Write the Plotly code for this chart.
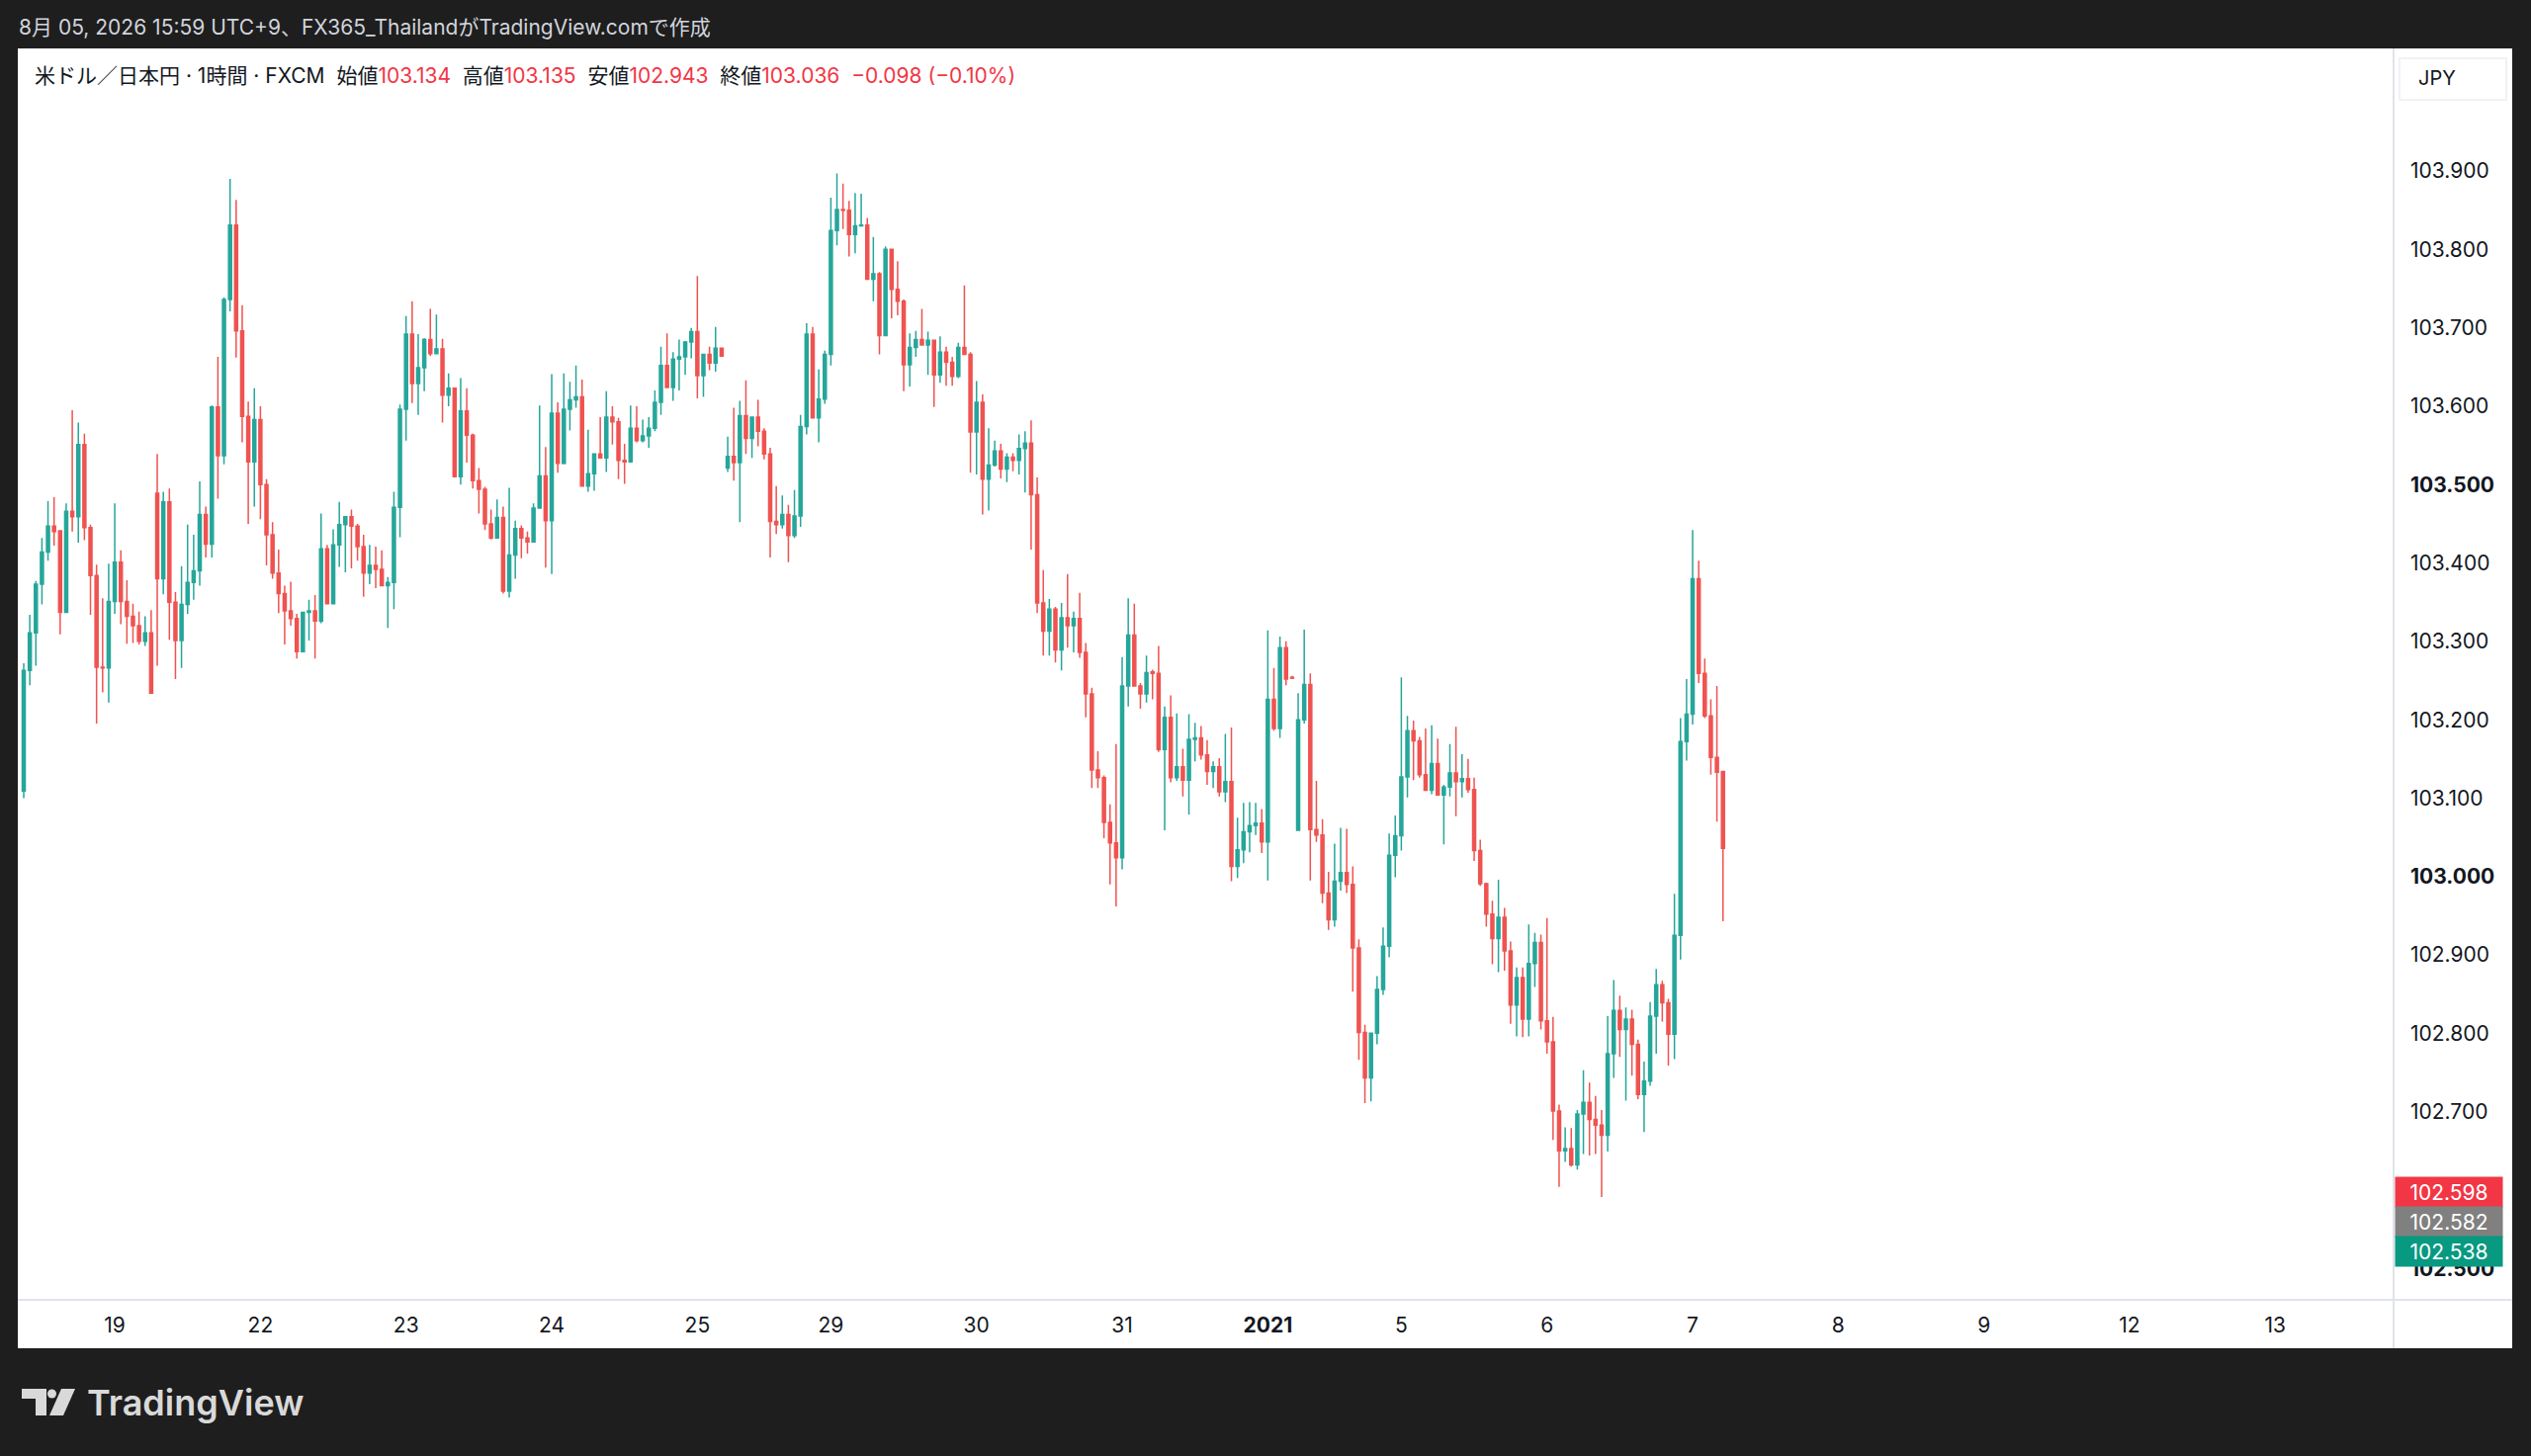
import plotly.graph_objects as go

# USD/JPY 1h FXCM  (bar index 0 = first visible bar, Dec 18 JST)
o = [103.109, 103.263, 103.311, 103.373, 103.414, 103.447, 103.441, 103.337, 103.466, 103.459,
     103.551, 103.445, 103.384, 103.267, 103.266, 103.351, 103.401, 103.351, 103.332, 103.320,
     103.300, 103.311, 103.489, 103.380, 103.478, 103.350, 103.301, 103.347, 103.375, 103.390,
     103.462, 103.424, 103.599, 103.537, 103.736, 103.831, 103.696, 103.587, 103.529, 103.583,
     103.500, 103.436, 103.387, 103.361, 103.339, 103.329, 103.287, 103.337, 103.339, 103.326,
     103.418, 103.348, 103.423, 103.449, 103.459, 103.447, 103.421, 103.387, 103.397, 103.392,
     103.371, 103.375, 103.471, 103.596, 103.692, 103.629, 103.649, 103.685, 103.667, 103.673,
     103.614, 103.623, 103.510, 103.594, 103.563, 103.505, 103.494, 103.450, 103.432, 103.458,
     103.364, 103.410, 103.444, 103.432, 103.427, 103.470, 103.511, 103.454, 103.591, 103.527,
     103.596, 103.608, 103.612, 103.498, 103.514, 103.539, 103.534, 103.586, 103.580, 103.531,
     103.529, 103.572, 103.556, 103.562, 103.572, 103.605, 103.652, 103.624, 103.660, 103.663,
     103.682, 103.695, 103.639, 103.666, 103.655, 103.674, 103.521, 103.536, 103.528, 103.588,
     103.559, 103.586, 103.568, 103.539, 103.453, 103.449, 103.462, 103.435, 103.460, 103.574,
     103.692, 103.585, 103.609, 103.666, 103.824, 103.851, 103.850, 103.819, 103.830, 103.831,
     103.762, 103.769, 103.690, 103.800, 103.749, 103.734, 103.653, 103.675, 103.685, 103.678,
     103.684, 103.640, 103.669, 103.656, 103.638, 103.675, 103.666, 103.567, 103.605, 103.507,
     103.525, 103.543, 103.520, 103.535, 103.531, 103.546, 103.553, 103.487, 103.349, 103.313,
     103.341, 103.289, 103.330, 103.320, 103.329, 103.286, 103.233, 103.136, 103.126, 103.069,
     103.043, 103.024, 103.243, 103.308, 103.243, 103.233, 103.261, 103.259, 103.162, 103.203,
     103.126, 103.140, 103.123, 103.175, 103.177, 103.155, 103.134, 103.140, 103.108, 103.121,
     103.013, 103.034, 103.057, 103.065, 103.068, 103.044, 103.226, 103.189, 103.292, 103.254,
     103.059, 103.200, 103.245, 103.060, 103.053, 102.979, 102.945, 102.994, 103.005, 102.990,
     102.909, 102.801, 102.743, 102.800, 102.856, 102.911, 103.027, 103.052, 103.127, 103.186,
     103.173, 103.130, 103.110, 103.144, 103.104, 103.114, 103.132, 103.121, 103.125, 103.111,
     103.033, 102.991, 102.952, 102.921, 102.948, 102.905, 102.836, 102.871, 102.818, 102.889,
     102.916, 102.816, 102.789, 102.701, 102.650, 102.653, 102.632, 102.697, 102.712, 102.690,
     102.683, 102.670, 102.774, 102.829, 102.805, 102.818, 102.786, 102.722, 102.739, 102.822,
     102.862, 102.839, 102.799, 102.925, 103.172, 103.207, 103.380, 103.259, 103.205, 103.152,
     103.134]
h = [103.272, 103.334, 103.377, 103.432, 103.479, 103.484, 103.441, 103.476, 103.595, 103.579,
     103.565, 103.449, 103.398, 103.355, 103.399, 103.476, 103.416, 103.378, 103.348, 103.338,
     103.332, 103.340, 103.539, 103.491, 103.495, 103.363, 103.396, 103.449, 103.436, 103.504,
     103.472, 103.601, 103.663, 103.739, 103.890, 103.863, 103.729, 103.606, 103.623, 103.600,
     103.507, 103.452, 103.417, 103.371, 103.376, 103.335, 103.337, 103.353, 103.359, 103.463,
     103.423, 103.443, 103.478, 103.460, 103.468, 103.450, 103.436, 103.423, 103.421, 103.416,
     103.382, 103.491, 103.602, 103.715, 103.734, 103.692, 103.687, 103.724, 103.717, 103.686,
     103.642, 103.623, 103.636, 103.623, 103.565, 103.521, 103.497, 103.468, 103.481, 103.472,
     103.496, 103.454, 103.448, 103.440, 103.476, 103.601, 103.548, 103.641, 103.605, 103.642,
     103.631, 103.652, 103.634, 103.570, 103.540, 103.586, 103.619, 103.600, 103.585, 103.552,
     103.601, 103.600, 103.583, 103.586, 103.620, 103.676, 103.693, 103.669, 103.685, 103.683,
     103.700, 103.766, 103.666, 103.676, 103.701, 103.675, 103.561, 103.598, 103.607, 103.633,
     103.587, 103.608, 103.572, 103.547, 103.498, 103.486, 103.474, 103.493, 103.589, 103.706,
     103.701, 103.647, 103.671, 103.866, 103.897, 103.884, 103.862, 103.872, 103.871, 103.840,
     103.816, 103.771, 103.804, 103.800, 103.785, 103.736, 103.693, 103.696, 103.724, 103.695,
     103.684, 103.689, 103.676, 103.663, 103.681, 103.754, 103.669, 103.632, 103.615, 103.572,
     103.556, 103.552, 103.540, 103.540, 103.564, 103.568, 103.582, 103.509, 103.391, 103.354,
     103.344, 103.349, 103.386, 103.338, 103.362, 103.298, 103.241, 103.160, 103.129, 103.092,
     103.169, 103.280, 103.355, 103.348, 103.247, 103.282, 103.264, 103.294, 103.217, 103.231,
     103.208, 103.163, 103.207, 103.196, 103.192, 103.174, 103.147, 103.151, 103.182, 103.190,
     103.075, 103.094, 103.095, 103.094, 103.086, 103.314, 103.266, 103.306, 103.300, 103.256,
     103.234, 103.315, 103.259, 103.122, 103.073, 103.006, 103.042, 103.062, 103.061, 103.013,
     102.920, 102.811, 102.801, 102.873, 102.935, 103.055, 103.078, 103.254, 103.205, 103.199,
     103.178, 103.189, 103.193, 103.176, 103.117, 103.169, 103.191, 103.156, 103.150, 103.126,
     103.047, 102.992, 102.969, 102.996, 102.960, 102.917, 102.884, 102.884, 102.939, 102.928,
     102.926, 102.947, 102.821, 102.709, 102.680, 102.679, 102.702, 102.753, 102.737, 102.720,
     102.702, 102.822, 102.868, 102.848, 102.833, 102.830, 102.792, 102.764, 102.840, 102.882,
     102.867, 102.844, 102.978, 103.202, 103.252, 103.442, 103.403, 103.278, 103.226, 103.243,
     103.135]
l = [103.100, 103.244, 103.269, 103.347, 103.403, 103.422, 103.309, 103.336, 103.440, 103.426,
     103.429, 103.334, 103.195, 103.235, 103.222, 103.335, 103.322, 103.297, 103.298, 103.296,
     103.294, 103.234, 103.269, 103.360, 103.302, 103.252, 103.266, 103.335, 103.353, 103.371,
     103.407, 103.407, 103.482, 103.526, 103.721, 103.662, 103.554, 103.450, 103.472, 103.456,
     103.397, 103.380, 103.336, 103.296, 103.320, 103.278, 103.287, 103.301, 103.278, 103.323,
     103.347, 103.347, 103.395, 103.388, 103.393, 103.403, 103.357, 103.373, 103.368, 103.371,
     103.317, 103.341, 103.433, 103.556, 103.604, 103.589, 103.619, 103.664, 103.667, 103.579,
     103.600, 103.510, 103.500, 103.528, 103.495, 103.463, 103.442, 103.430, 103.432, 103.361,
     103.356, 103.380, 103.406, 103.412, 103.427, 103.470, 103.394, 103.386, 103.515, 103.526,
     103.569, 103.598, 103.498, 103.491, 103.492, 103.534, 103.516, 103.551, 103.507, 103.501,
     103.529, 103.554, 103.554, 103.547, 103.568, 103.589, 103.624, 103.607, 103.620, 103.640,
     103.661, 103.610, 103.612, 103.646, 103.644, 103.664, 103.516, 103.505, 103.452, 103.539,
     103.534, 103.549, 103.532, 103.407, 103.437, 103.444, 103.401, 103.432, 103.446, 103.564,
     103.585, 103.554, 103.603, 103.652, 103.805, 103.826, 103.791, 103.795, 103.830, 103.762,
     103.734, 103.666, 103.690, 103.712, 103.716, 103.619, 103.625, 103.663, 103.678, 103.640,
     103.599, 103.630, 103.626, 103.626, 103.636, 103.666, 103.515, 103.513, 103.462, 103.467,
     103.523, 103.508, 103.503, 103.517, 103.513, 103.490, 103.417, 103.336, 103.282, 103.282,
     103.273, 103.263, 103.292, 103.286, 103.279, 103.203, 103.113, 103.113, 103.049, 102.990,
     102.962, 103.009, 103.217, 103.243, 103.214, 103.222, 103.226, 103.159, 103.059, 103.120,
     103.122, 103.102, 103.079, 103.147, 103.149, 103.117, 103.113, 103.102, 103.095, 102.994,
     102.998, 103.017, 103.031, 103.053, 103.030, 102.995, 103.186, 103.177, 103.244, 103.252,
     103.059, 103.195, 102.995, 103.044, 102.966, 102.932, 102.936, 102.982, 102.979, 102.853,
     102.766, 102.711, 102.713, 102.786, 102.849, 102.897, 102.999, 103.033, 103.101, 103.123,
     103.126, 103.110, 103.105, 103.104, 103.041, 103.102, 103.077, 103.101, 103.107, 103.020,
     102.988, 102.936, 102.888, 102.878, 102.880, 102.812, 102.796, 102.795, 102.796, 102.859,
     102.805, 102.774, 102.664, 102.604, 102.636, 102.630, 102.626, 102.646, 102.644, 102.646,
     102.591, 102.649, 102.743, 102.770, 102.714, 102.746, 102.716, 102.674, 102.733, 102.774,
     102.815, 102.759, 102.767, 102.894, 103.148, 103.194, 103.247, 103.202, 103.130, 103.070,
     102.943]
c = [103.263, 103.311, 103.373, 103.414, 103.447, 103.440, 103.337, 103.466, 103.459, 103.551,
     103.445, 103.384, 103.267, 103.266, 103.351, 103.401, 103.351, 103.332, 103.320, 103.300,
     103.311, 103.234, 103.380, 103.478, 103.350, 103.301, 103.347, 103.375, 103.390, 103.462,
     103.424, 103.599, 103.537, 103.736, 103.831, 103.696, 103.587, 103.529, 103.583, 103.500,
     103.436, 103.387, 103.361, 103.339, 103.329, 103.287, 103.337, 103.339, 103.326, 103.418,
     103.348, 103.423, 103.449, 103.459, 103.447, 103.421, 103.387, 103.397, 103.392, 103.371,
     103.375, 103.471, 103.596, 103.692, 103.629, 103.649, 103.685, 103.667, 103.673, 103.614,
     103.623, 103.510, 103.594, 103.563, 103.505, 103.494, 103.450, 103.432, 103.458, 103.364,
     103.410, 103.444, 103.432, 103.427, 103.470, 103.511, 103.454, 103.591, 103.527, 103.596,
     103.608, 103.612, 103.498, 103.514, 103.539, 103.534, 103.586, 103.580, 103.531, 103.529,
     103.572, 103.556, 103.562, 103.572, 103.605, 103.652, 103.624, 103.660, 103.663, 103.682,
     103.695, 103.639, 103.666, 103.655, 103.674, 103.664, 103.536, 103.528, 103.588, 103.559,
     103.586, 103.568, 103.539, 103.453, 103.449, 103.462, 103.435, 103.460, 103.574, 103.692,
     103.585, 103.609, 103.666, 103.824, 103.851, 103.850, 103.819, 103.830, 103.831, 103.762,
     103.769, 103.690, 103.800, 103.749, 103.734, 103.653, 103.675, 103.685, 103.678, 103.684,
     103.640, 103.669, 103.656, 103.638, 103.675, 103.666, 103.567, 103.605, 103.507, 103.525,
     103.543, 103.520, 103.535, 103.531, 103.546, 103.553, 103.487, 103.349, 103.313, 103.341,
     103.289, 103.330, 103.320, 103.329, 103.286, 103.233, 103.136, 103.126, 103.069, 103.043,
     103.024, 103.243, 103.308, 103.243, 103.233, 103.260, 103.259, 103.162, 103.203, 103.126,
     103.140, 103.123, 103.175, 103.177, 103.155, 103.134, 103.140, 103.108, 103.121, 103.013,
     103.034, 103.057, 103.065, 103.068, 103.044, 103.226, 103.189, 103.292, 103.252, 103.253,
     103.200, 103.245, 103.060, 103.053, 102.979, 102.945, 102.994, 103.005, 102.990, 102.909,
     102.801, 102.743, 102.800, 102.856, 102.911, 103.027, 103.052, 103.127, 103.186, 103.173,
     103.130, 103.110, 103.144, 103.104, 103.114, 103.132, 103.121, 103.125, 103.111, 103.033,
     102.991, 102.952, 102.921, 102.948, 102.905, 102.836, 102.871, 102.818, 102.889, 102.916,
     102.816, 102.789, 102.701, 102.650, 102.653, 102.632, 102.697, 102.712, 102.690, 102.683,
     102.670, 102.774, 102.829, 102.805, 102.818, 102.786, 102.722, 102.739, 102.822, 102.862,
     102.839, 102.799, 102.925, 103.172, 103.207, 103.380, 103.259, 103.205, 103.152, 103.133,
     103.036]

# day labels on the time axis (bar index where the day starts)
day_idx = [15, 39, 63, 87, 111, 133, 157, 181, 205, 227, 251, 275, 299, 323, 347, 371]
day_txt = ["19", "22", "23", "24", "25", "29", "30", "31", "<b>2021</b>",
           "5", "6", "7", "8", "9", "12", "13"]

price_ticks = [102.5, 102.6, 102.7, 102.8, 102.9, 103.0, 103.1, 103.2, 103.3,
               103.4, 103.5, 103.6, 103.7, 103.8, 103.9]

# stacked price labels on the right scale
tag_vals = [102.598, 102.582, 102.538]
tag_cols = ["#f23645", "#808080", "#089981"]

W, H = 2560, 1473
PL, PR, PT, PB = 18, 2421, 49, 1315   # plot area in pixels
FONT = "Inter, Noto Sans CJK JP, sans-serif"
UP, DN = "#26a69a", "#ef5350"


def px(x):
    return (x - PL) / (PR - PL)


def py(y):
    return (PB - y) / (PB - PT)


xs = list(range(len(c)))

fig = go.Figure()
fig.add_trace(go.Candlestick(
    x=xs, open=o, high=h, low=l, close=c,
    increasing=dict(line=dict(color=UP, width=1.5), fillcolor=UP),
    decreasing=dict(line=dict(color=DN, width=1.5), fillcolor=DN),
    whiskerwidth=0, showlegend=False, hoverinfo="skip"
))

tick_txt = []
for v in price_ticks:
    s = f"{v:.3f}"
    tick_txt.append(f"<b>{s}</b>" if abs(v * 2 - round(v * 2)) < 1e-9 else s)

fig.update_layout(
    width=W, height=H,
    margin=dict(l=PL, r=W - PR, t=PT, b=H - PB, pad=0),
    paper_bgcolor="#1e1e1e", plot_bgcolor="white",
    font=dict(family=FONT, size=21, color="#131722"),
    showlegend=False,
    xaxis=dict(range=[-0.977, 390.5], rangeslider=dict(visible=False),
               tickmode="array", tickvals=day_idx, ticktext=day_txt,
               showgrid=False, zeroline=False, showline=False, ticks="",
               tickfont=dict(size=21, color="#131722"), ticklabelstandoff=11),
    yaxis=dict(range=[102.46, 104.0564], side="right",
               tickmode="array", tickvals=price_ticks, ticktext=tick_txt,
               showgrid=False, zeroline=False, showline=False, ticks="",
               tickfont=dict(size=21, color="#131722"), ticklabelstandoff=16),
)

shapes = [
    # white chart panel
    dict(type="rect", xref="paper", yref="paper", x0=px(18), x1=px(2541),
         y0=py(1364), y1=py(49), fillcolor="white", line=dict(width=0), layer="below"),
    # price scale / time scale separators
    dict(type="line", xref="paper", yref="paper", x0=px(2421), x1=px(2421),
         y0=py(1364), y1=py(49), line=dict(color="#e0e3eb", width=2)),
    dict(type="line", xref="paper", yref="paper", x0=px(18), x1=px(2541),
         y0=py(1315), y1=py(1315), line=dict(color="#e0e3eb", width=2)),
    # currency button on the price scale
    dict(type="rect", xref="paper", yref="paper", x0=px(2427), x1=px(2535),
         y0=py(101), y1=py(59), fillcolor="white", line=dict(color="#eceef2", width=1.5)),
    # TradingView logo mark
    dict(type="path", xref="paper", yref="paper", fillcolor="#d9d9d9", line=dict(width=0),
         path=f"M {px(22)},{py(1405)} L {px(47)},{py(1405)} L {px(47)},{py(1432)} "
              f"L {px(36)},{py(1432)} L {px(36)},{py(1415)} L {px(22)},{py(1415)} Z"),
    dict(type="circle", xref="paper", yref="paper", fillcolor="#d9d9d9", line=dict(width=0),
         x0=px(48), x1=px(57), y0=py(1414.5), y1=py(1405.5)),
    dict(type="path", xref="paper", yref="paper", fillcolor="#d9d9d9", line=dict(width=0),
         path=f"M {px(62)},{py(1405)} L {px(76)},{py(1405)} L {px(64)},{py(1432)} "
              f"L {px(50)},{py(1432)} Z"),
]
fig.update_layout(shapes=shapes)

red = "#f23645"
sp = "\u00a0\u00a0"
legend = ("米ドル／日本円 · 1時間 · FXCM" + sp +
          f"始値<span style='color:{red}'>103.134</span>" + sp +
          f"高値<span style='color:{red}'>103.135</span>" + sp +
          f"安値<span style='color:{red}'>102.943</span>" + sp +
          f"終値<span style='color:{red}'>103.036</span>" + sp +
          f"<span style='color:{red}'>−0.098 (−0.10%)</span>")

ann = [
    dict(text="8月 05, 2026 15:59 UTC+9、FX365_ThailandがTradingView.comで作成",
         x=px(17), y=py(27), xanchor="left", yanchor="middle",
         font=dict(size=21, color="#d1d4dc")),
    dict(text=legend, x=px(33), y=py(77), xanchor="left", yanchor="middle",
         font=dict(size=21, color="#131722")),
    dict(text="JPY", x=px(2444), y=py(79), xanchor="left", yanchor="middle",
         font=dict(size=20, color="#131722")),
    dict(text="TradingView", x=px(86), y=py(1419), xanchor="left", yanchor="middle",
         font=dict(family="Inter, sans-serif", size=36, color="#d9d9d9", weight=600)),
]
for i, (v, col) in enumerate(zip(tag_vals, tag_cols)):
    ann.append(dict(text=f"{v:.3f}", xref="paper", yref="y", x=1, y=tag_vals[0],
                    xanchor="left", yanchor="middle", xshift=1, yshift=-30 * i,
                    width=104, height=26, borderpad=2, bgcolor=col, align="center",
                    font=dict(size=21, color="white")))
for a in ann:
    a.setdefault("xref", "paper")
    a.setdefault("yref", "paper")
    a.setdefault("showarrow", False)
fig.update_layout(annotations=ann)

fig.write_html("out.html", config={"displayModeBar": False},
               post_script="document.body.style.margin='0';")
